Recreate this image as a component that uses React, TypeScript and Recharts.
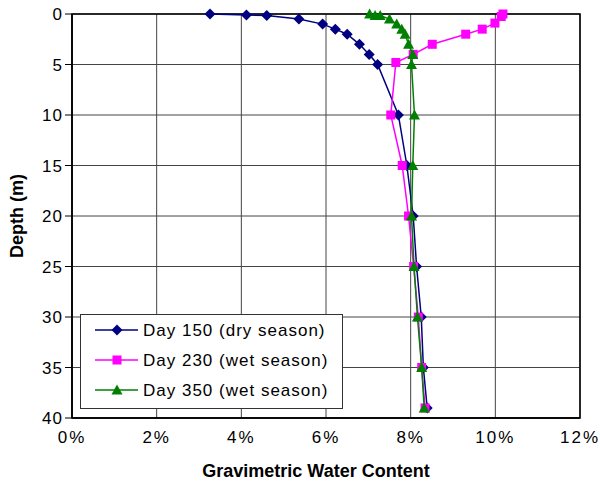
import { ScatterChart, Scatter, XAxis, YAxis, CartesianGrid, ReferenceArea, Legend, Label } from 'recharts';

// depth below surface (m) and gravimetric water content (%) per survey day
const depth150 = [0, 0.1, 0.15, 0.5, 1, 1.5, 2, 3, 4, 5, 10, 15, 20, 25, 30, 35, 39];
const water150 = [3.26, 4.12, 4.6, 5.36, 5.92, 6.22, 6.5, 6.79, 7.02, 7.22, 7.71, 7.91, 8.06, 8.14, 8.25, 8.3, 8.39];

const depth230 = [0, 0.25, 0.9, 1.5, 2, 3, 4, 4.8, 10, 15, 20, 25, 30, 35, 39];
const water230 = [10.18, 10.14, 9.99, 9.69, 9.3, 8.51, 8.06, 7.65, 7.53, 7.8, 7.95, 8.07, 8.18, 8.26, 8.34];

const depth350 = [0, 0.15, 0.15, 0.5, 1, 1.5, 2, 3, 4, 5, 10, 15, 20, 25, 30, 35, 39];
const water350 = [7.03, 7.16, 7.28, 7.5, 7.67, 7.79, 7.87, 7.95, 8.05, 8.02, 8.09, 8.05, 8.02, 8.08, 8.16, 8.26, 8.32];

const seriesNames = ['Day 150 (dry season)', 'Day 230 (wet season)', 'Day 350 (wet season)'];
const xTicks = [0, 2, 4, 6, 8, 10, 12];
const yTicks = [0, 5, 10, 15, 20, 25, 30, 35, 40];

const FONT = '"Liberation Sans", Arial, sans-serif';

const toPoints = (depths: number[], water: number[]) =>
  depths.map((d, i) => ({ depth: d, wc: water[i] }));

const Diamond = ({ cx, cy, fill }: any) => (
  <polygon points={`${cx},${cy - 5.5} ${cx + 5.5},${cy} ${cx},${cy + 5.5} ${cx - 5.5},${cy}`} fill={fill} />
);
const Square = ({ cx, cy, fill }: any) => <rect x={cx - 4.5} y={cy - 4.5} width={9} height={9} fill={fill} />;
const Triangle = ({ cx, cy, fill }: any) => (
  <polygon points={`${cx},${cy - 5.5} ${cx + 5.5},${cy + 4.5} ${cx - 5.5},${cy + 4.5}`} fill={fill} />
);

const series = [
  { name: seriesNames[0], data: toPoints(depth150, water150), color: '#000080', Shape: Diamond },
  { name: seriesNames[1], data: toPoints(depth230, water230), color: '#ff00ff', Shape: Square },
  { name: seriesNames[2], data: toPoints(depth350, water350), color: '#008000', Shape: Triangle },
];

const LegendBox = () => (
  <div
    style={{
      boxSizing: 'border-box',
      width: 263,
      height: 95,
      background: '#fff',
      border: '1px solid #333',
      fontFamily: FONT,
      fontSize: 17,
      letterSpacing: 1,
      color: '#000',
    }}
  >
    <svg width={261} height={93}>
      {series.map((s, i) => {
        const cy = 15 + i * 30;
        return (
          <g key={s.name}>
            <line x1={14} x2={57} y1={cy} y2={cy} stroke={s.color} strokeWidth={1.5} />
            <s.Shape cx={36} cy={cy} fill={s.color} />
            <text x={62} y={cy + 6} fontSize={17} fontFamily={FONT} letterSpacing={1}>
              {s.name}
            </text>
          </g>
        );
      })}
    </svg>
  </div>
);

const YTitle = ({ viewBox }: any) => {
  const cy = viewBox.y + viewBox.height / 2;
  return (
    <text x={17} y={cy} transform={`rotate(-90, 17, ${cy})`} textAnchor="middle" dominantBaseline="central"
      fontFamily={FONT} fontSize={18} fontWeight="bold" fill="#000">
      Depth (m)
    </text>
  );
};

const XTitle = ({ viewBox }: any) => (
  <text x={viewBox.x + viewBox.width / 2 - 10} y={477} textAnchor="middle"
    fontFamily={FONT} fontSize={18} fontWeight="bold" fill="#000">
    Gravimetric Water Content
  </text>
);

export default function App() {
  return (
    <div style={{ position: 'absolute', left: 0, top: 0, background: '#fff' }}>
      <ScatterChart width={600} height={488} margin={{ top: 14, right: 20, bottom: 0, left: 0 }}>
        <CartesianGrid stroke="#444" strokeWidth={1} />
        <XAxis
          type="number"
          dataKey="wc"
          domain={[0, 12]}
          ticks={xTicks}
          tickFormatter={(v) => `${v}%`}
          height={70}
          tickLine={false}
          tickSize={0}
          tickMargin={13}
          axisLine={{ stroke: '#000', strokeWidth: 1.5 }}
          tick={{ fill: '#000', fontSize: 17, fontFamily: FONT, letterSpacing: 2 }}
        >
          <Label content={<XTitle />} />
        </XAxis>
        <YAxis
          type="number"
          dataKey="depth"
          domain={[0, 40]}
          reversed
          ticks={yTicks}
          width={72}
          tickSize={7}
          tickMargin={2}
          axisLine={{ stroke: '#000', strokeWidth: 1.5 }}
          tickLine={{ stroke: '#000' }}
          tick={{ fill: '#000', fontSize: 17, fontFamily: FONT, letterSpacing: 1 }}
        >
          <Label content={<YTitle />} />
        </YAxis>
        <ReferenceArea x1={0} x2={12} y1={0} y2={40} fill="none" stroke="#000" strokeWidth={1.5} ifOverflow="visible" />
        {series.map((s) => (
          <Scatter
            key={s.name}
            name={s.name}
            data={s.data}
            fill={s.color}
            line={{ stroke: s.color, strokeWidth: 1.5 }}
            lineType="joint"
            shape={(p: any) => <s.Shape cx={p.cx} cy={p.cy} fill={s.color} />}
            isAnimationActive={false}
          />
        ))}
        <Legend
          layout="vertical"
          align="center"
          verticalAlign="middle"
          content={<LegendBox />}
          wrapperStyle={{ left: 80, top: 314, width: 263, height: 95 }}
        />
      </ScatterChart>
    </div>
  );
}
